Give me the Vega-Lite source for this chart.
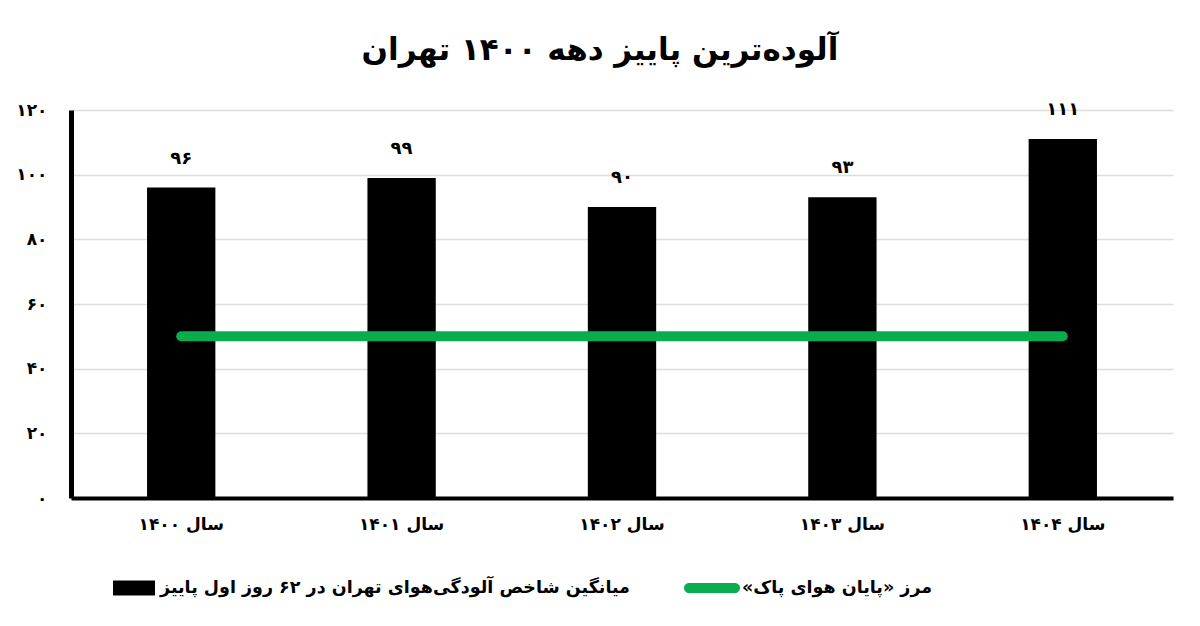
{
  "$schema": "https://vega.github.io/schema/vega-lite/v6.json",
  "autosize": "none",
  "width": 1102,
  "height": 388,
  "padding": {"left": 71, "top": 110, "right": 27, "bottom": 128},
  "background": "white",
  "config": {
    "font": "DejaVu Sans",
    "view": {"stroke": null}
  },
  "title": {
    "text": "آلوده‌ترین پاییز دهه ۱۴۰۰ تهران",
    "fontSize": 31,
    "fontWeight": "bold",
    "font": "DejaVu Sans",
    "color": "black",
    "anchor": "middle",
    "dx": -22,
    "offset": 34
  },
  "data": {
    "values": [
      {"year": "سال ۱۴۰۰", "value": 96, "label": "۹۶", "limit": 50},
      {"year": "سال ۱۴۰۱", "value": 99, "label": "۹۹", "limit": 50},
      {"year": "سال ۱۴۰۲", "value": 90, "label": "۹۰", "limit": 50},
      {"year": "سال ۱۴۰۳", "value": 93, "label": "۹۳", "limit": 50},
      {"year": "سال ۱۴۰۴", "value": 111, "label": "۱۱۱", "limit": 50}
    ]
  },
  "encoding": {
    "x": {
      "field": "year",
      "type": "nominal",
      "sort": null,
      "scale": {"paddingInner": 0.69, "paddingOuter": 0.345},
      "axis": {
        "title": null,
        "labelAngle": 0,
        "labelFontSize": 17,
        "labelFontWeight": "bold",
        "labelColor": "black",
        "labelPadding": 18,
        "ticks": false,
        "domainColor": "black",
        "domainWidth": 4,
        "grid": false
      }
    }
  },
  "layer": [
    {
      "mark": {"type": "bar", "color": "black"},
      "encoding": {
        "y": {
          "field": "value",
          "type": "quantitative",
          "scale": {"domain": [0, 120]},
          "axis": {
            "title": null,
            "values": [0, 20, 40, 60, 80, 100, 120],
            "labelExpr": "replace(replace(replace(replace(replace(replace(datum.label, regexp('0','g'), '۰'), regexp('1','g'), '۱'), regexp('2','g'), '۲'), regexp('4','g'), '۴'), regexp('6','g'), '۶'), regexp('8','g'), '۸')",
            "labelFontSize": 17,
            "labelFontWeight": "bold",
            "labelColor": "black",
            "labelPadding": 24,
            "ticks": false,
            "domainColor": "black",
            "domainWidth": 5,
            "grid": true,
            "gridColor": "#dddddd",
            "gridWidth": 1.5
          }
        },
        "fill": {
          "datum": "میانگین شاخص آلودگی‌هوای تهران در ۶۲ روز اول پاییز",
          "scale": {"range": ["black"]},
          "legend": {
            "title": null,
            "orient": "none",
            "legendX": 42,
            "legendY": 457,
            "symbolType": "M-1,-0.36H1V0.36H-1Z",
            "symbolSize": 1764,
            "symbolStrokeWidth": 0,
            "labelFontSize": 17.5,
            "labelFontWeight": "bold",
            "labelColor": "black",
            "labelLimit": 800,
            "labelOffset": 5
          }
        }
      }
    },
    {
      "mark": {"type": "text", "baseline": "middle", "dy": -29, "fontSize": 18, "fontWeight": "bold", "color": "black"},
      "encoding": {
        "y": {"field": "value", "type": "quantitative"},
        "text": {"field": "label"}
      }
    },
    {
      "mark": {"type": "line", "strokeWidth": 10, "strokeCap": "round"},
      "encoding": {
        "y": {"field": "limit", "type": "quantitative"},
        "stroke": {
          "datum": "مرز «پایان هوای پاک»‏",
          "scale": {"range": ["#0aad4e"]},
          "legend": {
            "title": null,
            "orient": "none",
            "legendX": 613,
            "legendY": 450,
            "symbolType": "M-0.82,-0.18H0.82A0.18,0.18 0 0 1 0.82,0.18H-0.82A0.18,0.18 0 0 1 -0.82,-0.18Z",
            "symbolSize": 3136,
            "symbolFillColor": "#0aad4e",
            "symbolStrokeWidth": 0,
            "labelFontSize": 17.5,
            "labelFontWeight": "bold",
            "labelColor": "black",
            "labelLimit": 800,
            "labelOffset": 2
          }
        }
      }
    }
  ]
}
